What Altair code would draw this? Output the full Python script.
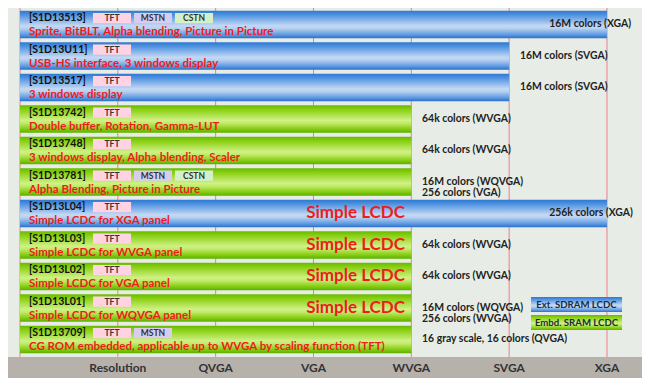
import altair as alt
import pandas as pd

# ---------------- data ----------------
chips = ["S1D13513", "S1D13U11", "S1D13517", "S1D13742", "S1D13748", "S1D13781",
         "S1D13L04", "S1D13L03", "S1D13L02", "S1D13L01", "S1D13709"]
features = [
    "Sprite, BitBLT, Alpha blending, Picture in Picture",
    "USB-HS interface, 3 windows display",
    "3 windows display",
    "Double buffer, Rotation, Gamma-LUT",
    "3 windows display,  Alpha blending, Scaler",
    "Alpha Blending, Picture in Picture",
    "Simple LCDC for XGA panel",
    "Simple LCDC for WVGA panel",
    "Simple LCDC for VGA panel",
    "Simple LCDC for WQVGA panel",
    "CG ROM embedded, applicable up to WVGA by scaling function (TFT)",
]
memory = ["Ext", "Ext", "Ext", "Embd", "Embd", "Embd", "Ext", "Embd", "Embd", "Embd", "Embd"]
max_res = ["XGA", "SVGA", "SVGA", "WVGA", "WVGA", "WVGA", "XGA", "WVGA", "WVGA", "WVGA", "WVGA"]
color_notes = [
    "16M colors (XGA)",
    "16M colors (SVGA)",
    "16M colors (SVGA)",
    "64k colors (WVGA)",
    "64k colors (WVGA)",
    "16M colors (WQVGA)\n256 colors (VGA)",
    "256k colors (XGA)",
    "64k colors (WVGA)",
    "64k colors (WVGA)",
    "16M colors (WQVGA)\n256 colors (WVGA)",
    "16 gray scale, 16 colors (QVGA)",
]
panels = [["TFT", "MSTN", "CSTN"], ["TFT"], ["TFT"], ["TFT"], ["TFT"],
          ["TFT", "MSTN", "CSTN"], ["TFT"], ["TFT"], ["TFT"], ["TFT"], ["TFT", "MSTN"]]
simple_lcdc = [False, False, False, False, False, False, True, True, True, True, False]
res_labels = ["Resolution", "QVGA", "VGA", "WVGA", "SVGA", "XGA"]
legend_labels = ["Ext. SDRAM LCDC", "Embd. SRAM LCDC"]
panel_types = ["TFT", "MSTN", "CSTN"]
panel_colors = ["#ffd3e4", "#d8ccf0", "#d4f0c8"]

# ---------------- layout ----------------
W, H = 634, 370
PX, X0 = 97.83, 12.0
PY, Y0 = 31.5, 2.7
xmin, xmax = -X0 / PX, (W - X0) / PX
ymin, ymax = -Y0 / PY, (H - Y0) / PY
xs = alt.Scale(domain=[xmin, xmax], nice=False, zero=False)
ys = alt.Scale(domain=[ymin, ymax], nice=False, zero=False, reverse=True)
BAR_H = 0.873
FONT = "Lato"
RED = "#ee1c1c"


def X(f):
    return alt.X(f, type="quantitative", scale=xs, axis=None)


def Y(f):
    return alt.Y(f, type="quantitative", scale=ys, axis=None)


rows = pd.DataFrame({
    "chip": ["[" + c + "]" for c in chips],
    "feature": features,
    "mem": memory,
    "end": [res_labels.index(r) + 1 for r in max_res],
    "note": color_notes,
    "row": list(range(len(chips))),
})
rows["start"] = 0.0
rows["top"] = rows["row"]
rows["bot"] = rows["row"] + BAR_H
rows["mid"] = rows["row"] + BAR_H / 2
rows["idy"] = rows["row"] + 0.24
rows["fy"] = rows["row"] + 0.69
rows["idx"] = 0.092
rows["nx"] = [5.41 if e >= 6 else e + 0.11 for e in rows["end"]]

tags = []
for i, ps in enumerate(panels):
    for k, p in enumerate(ps):
        x1 = 0.746 + k * 0.419
        tags.append({"tag": p, "x1": x1, "x2": x1 + 0.389, "xm": x1 + 0.1945,
                     "y1": i + 0.075, "y2": i + 0.395, "ym": i + 0.24})
tags = pd.DataFrame(tags)

grid = pd.DataFrame({"x": list(range(0, len(res_labels) + 1)), "y": ymin, "y2": 11.0})
band = pd.DataFrame({"x": [xmin], "x2": [xmax], "y": [10.99], "y2": [ymax]})
axis_lab = pd.DataFrame({"lab": res_labels, "x": list(range(1, len(res_labels) + 1)),
                         "y": (11.0 + ymax) / 2})
simple = rows[[s for s in simple_lcdc]].copy()
simple["lab"] = "Simple LCDC"
simple["sx"] = 3.935

leg = pd.DataFrame({"lab": legend_labels, "mem": ["Ext", "Embd"],
                    "x1": 5.223, "x2": 6.154, "xm": 5.688,
                    "y1": [9.09, 9.66], "y2": [9.565, 10.14]})
leg["ym"] = (leg["y1"] + leg["y2"]) / 2

blue = alt.LinearGradient(gradient="linear", x1=0, x2=0, y1=0, y2=1, stops=[
    alt.GradientStop(offset=0, color="#2e78d2"),
    alt.GradientStop(offset=0.15, color="#4d91e0"),
    alt.GradientStop(offset=0.55, color="#c4d9f3"),
    alt.GradientStop(offset=0.65, color="#b6d0f0"),
    alt.GradientStop(offset=0.88, color="#5b98e2"),
    alt.GradientStop(offset=1, color="#2d70c8"),
])
green = alt.LinearGradient(gradient="linear", x1=0, x2=0, y1=0, y2=1, stops=[
    alt.GradientStop(offset=0, color="#66ba00"),
    alt.GradientStop(offset=0.15, color="#88cf10"),
    alt.GradientStop(offset=0.55, color="#d0f186"),
    alt.GradientStop(offset=0.66, color="#c0ea66"),
    alt.GradientStop(offset=0.88, color="#80ca0e"),
    alt.GradientStop(offset=1, color="#5caf00"),
])

base_rows = alt.Chart(rows)

grid_l = alt.Chart(grid).mark_rule(color="#ee7d8c", strokeWidth=1).encode(
    x=X("x"), y=Y("y"), y2="y2")
band_l = alt.Chart(band).mark_rect(color="#b7b1ac").encode(
    x=X("x"), x2="x2", y=Y("y"), y2="y2")
bars_ext = base_rows.transform_filter(alt.datum.mem == "Ext").mark_rect(color=blue).encode(
    x=X("start"), x2="end", y=Y("top"), y2="bot")
bars_emb = base_rows.transform_filter(alt.datum.mem == "Embd").mark_rect(color=green).encode(
    x=X("start"), x2="end", y=Y("top"), y2="bot")
tag_rect = alt.Chart(tags).mark_rect().encode(
    x=X("x1"), x2="x2", y=Y("y1"), y2="y2",
    color=alt.Color("tag:N", scale=alt.Scale(domain=panel_types, range=panel_colors), legend=None))
tag_text = alt.Chart(tags).mark_text(font=FONT, fontSize=8.5, fontWeight="bold", color="#333333",
                                     baseline="middle", align="center").encode(
    x=X("xm"), y=Y("ym"), text="tag:N")
id_text = base_rows.mark_text(font=FONT, fontSize=10.5, fontWeight="bold", color="#111111",
                              baseline="middle", align="left").encode(
    x=X("idx"), y=Y("idy"), text="chip:N")
feat_text = base_rows.mark_text(font=FONT, fontSize=11.5, fontWeight="bold", color=RED,
                                baseline="middle", align="left").encode(
    x=X("idx"), y=Y("fy"), text="feature:N")
note_text = base_rows.mark_text(font=FONT, fontSize=10.4, fontWeight="bold", color="#222222",
                                baseline="middle", align="left", lineBreak="\n",
                                lineHeight=11).encode(
    x=X("nx"), y=Y("mid"), text="note:N")
simple_text = alt.Chart(simple).mark_text(font=FONT, fontSize=17, fontWeight="bold", color=RED,
                                          baseline="middle", align="right").encode(
    x=X("sx"), y=Y("mid"), text="lab:N")
leg_ext = alt.Chart(leg).transform_filter(alt.datum.mem == "Ext").mark_rect(color=blue).encode(
    x=X("x1"), x2="x2", y=Y("y1"), y2="y2")
leg_emb = alt.Chart(leg).transform_filter(alt.datum.mem == "Embd").mark_rect(color=green).encode(
    x=X("x1"), x2="x2", y=Y("y1"), y2="y2")
leg_text = alt.Chart(leg).mark_text(font=FONT, fontSize=9.6, fontWeight="bold", color="#1b2b3b",
                                    baseline="middle", align="center").encode(
    x=X("xm"), y=Y("ym"), text="lab:N")
axis_text = alt.Chart(axis_lab).mark_text(font=FONT, fontSize=12, fontWeight="bold",
                                          color="#333333", baseline="middle",
                                          align="center").encode(
    x=X("x"), y=Y("y"), text="lab:N")

chart = alt.layer(
    grid_l, band_l, bars_ext, bars_emb, tag_rect, tag_text, id_text, feat_text,
    note_text, simple_text, leg_ext, leg_emb, leg_text, axis_text
).properties(
    width=W, height=H, autosize=alt.AutoSizeParams(type="none"), padding=0,
    background="#e7ede6"
).configure_view(stroke=None)

chart.save("out.html", embed_options={"renderer": "svg", "actions": False})
